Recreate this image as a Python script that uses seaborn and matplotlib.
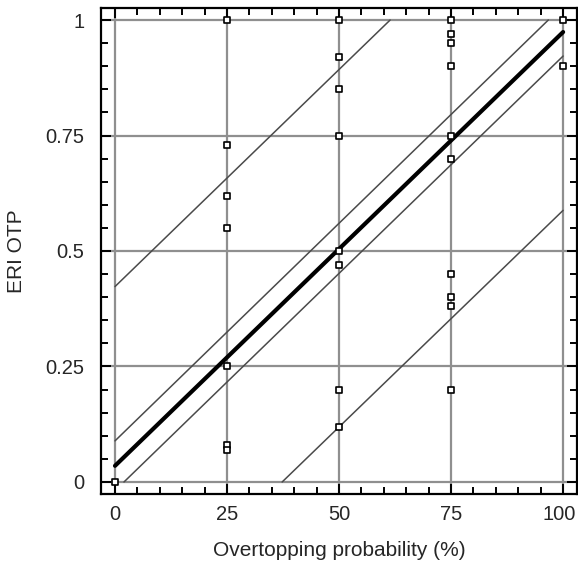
import numpy as np
import pandas as pd
import matplotlib
matplotlib.use("Agg")
import matplotlib.pyplot as plt
import matplotlib.transforms as mtransforms
from matplotlib.ticker import MultipleLocator
import seaborn as sns

# Observed points
x_points = [0,
            25, 25, 25, 25, 25, 25, 25,
            50, 50, 50, 50, 50, 50, 50, 50,
            75, 75, 75, 75, 75, 75, 75, 75, 75, 75,
            100, 100]
y_points = [0.0,
            1.0, 0.73, 0.62, 0.55, 0.25, 0.08, 0.07,
            1.0, 0.92, 0.85, 0.75, 0.50, 0.47, 0.20, 0.12,
            1.0, 0.97, 0.95, 0.90, 0.75, 0.70, 0.45, 0.40, 0.38, 0.20,
            1.0, 0.90]

# Regression line and bands (endpoints)
fit_x = [0, 100]
fit_y = [0.035, 0.974]
conf_upper_x = [0, 96.7]
conf_upper_y = [0.089, 1.0]
conf_lower_x = [2.0, 100]
conf_lower_y = [0.0, 0.922]
pred_upper_x = [0, 61.4]
pred_upper_y = [0.423, 1.0]
pred_lower_x = [37.3, 100]
pred_lower_y = [0.0, 0.588]

x_ticks = [0, 25, 50, 75, 100]
x_ticklabels = ["0", "25", "50", "75", "100"]
y_ticks = [0, 0.25, 0.5, 0.75, 1.0]
y_ticklabels = ["0", "0.25", "0.5", "0.75", "1"]

sns.set_style("white")
plt.rcParams["font.family"] = ["Liberation Sans", "DejaVu Sans"]

fig = plt.figure(figsize=(5.78, 5.66), dpi=100)
ax = fig.add_axes([101 / 578, 72 / 566, 476 / 578, 486 / 566])

pts = pd.DataFrame({"x": x_points, "y": y_points})

for xs, ys in [(conf_upper_x, conf_upper_y), (conf_lower_x, conf_lower_y),
               (pred_upper_x, pred_upper_y), (pred_lower_x, pred_lower_y)]:
    sns.lineplot(x=xs, y=ys, ax=ax, color="#4a4a4a", lw=1.1, zorder=3)
sns.lineplot(x=fit_x, y=fit_y, ax=ax, color="black", lw=3.0, zorder=4)

sns.scatterplot(data=pts, x="x", y="y", ax=ax, marker="s", s=20,
                facecolor="white", edgecolor="black", linewidth=1.2, zorder=5)

ax.set_xlim(-3.125, 103.1)
ax.set_ylim(-0.026, 1.026)

ax.set_xticks(x_ticks)
ax.set_xticklabels(x_ticklabels)
ax.set_yticks(y_ticks)
ax.set_yticklabels(y_ticklabels)
ax.xaxis.set_minor_locator(MultipleLocator(5))
ax.yaxis.set_minor_locator(MultipleLocator(0.05))

ax.grid(True, which="major", color="#8f8f8f", lw=1.6)
ax.set_axisbelow(True)

for s in ax.spines.values():
    s.set_visible(True)
    s.set_color("black")
    s.set_linewidth(1.6)

ax.tick_params(which="both", direction="in", top=True, right=True,
               bottom=True, left=True, color="black", width=1.4)
ax.tick_params(which="major", length=7, labelsize=14.5, pad=8)
ax.tick_params(which="minor", length=5)
ax.tick_params(axis="y", which="major", pad=12)

# keep the last x tick label inside the figure
last = ax.get_xticklabels()[-1]
last.set_transform(last.get_transform() +
                   mtransforms.ScaledTranslation(-4 / 100, 0, fig.dpi_scale_trans))

ax.set_xlabel("Overtopping probability (%)", fontsize=15, labelpad=12)
ax.set_ylabel("ERI OTP", fontsize=15, labelpad=14)

fig.savefig("out.png", dpi=100)
